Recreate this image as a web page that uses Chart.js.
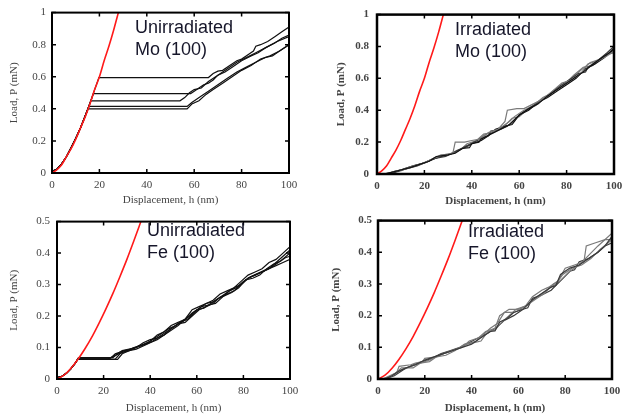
<!DOCTYPE html>
<html>
<head>
<meta charset="utf-8">
<script src="https://cdn.jsdelivr.net/npm/chart.js@4.4.1/dist/chart.umd.min.js"></script>
<style>
  body { margin: 0; background: #fff; }
  #wrap { position: relative; width: 630px; height: 416px; }
  canvas { position: absolute; }
</style>
</head>
<body>
<div id="wrap">
  <canvas id="moUnirr" width="315" height="208" style="left:0;top:0"></canvas>
  <canvas id="moIrr" width="315" height="208" style="left:315px;top:0"></canvas>
  <canvas id="feUnirr" width="315" height="208" style="left:0;top:208px"></canvas>
  <canvas id="feIrr" width="315" height="208" style="left:315px;top:208px"></canvas>
</div>
<script>
// tick values
const hTicks = [0, 20, 40, 60, 80, 100];
const moTicks = [0, 0.2, 0.4, 0.6, 0.8, 1];
const feTicks = [0, 0.05, 0.1, 0.15, 0.2, 0.25, 0.3, 0.35, 0.4, 0.45, 0.5];

// red elastic (Hertz) curves
const moHertzH = [0, 2, 4, 6, 8, 10, 12, 14, 16, 18, 20, 22, 24, 26, 28];
const moHertzP = [0, 0.02, 0.05, 0.10, 0.15, 0.21, 0.28, 0.35, 0.43, 0.52, 0.60, 0.70, 0.79, 0.89, 1.0];
const feHertzH = [0, 3, 6, 9, 12, 15, 18, 21, 24, 27, 30, 33, 36];
const feHertzP = [0, 0.012, 0.034, 0.0625, 0.096, 0.134, 0.177, 0.223, 0.272, 0.325, 0.38, 0.439, 0.5];

// Unirradiated Mo (100): load-displacement curves [h, P]
const moStart = [[0, 0.012], [2, 0.022], [4, 0.055], [6, 0.10], [8, 0.155], [10, 0.215], [12, 0.28], [14, 0.355]];
const moUnA = moStart.concat([[16, 0.435], [18, 0.52], [19.8, 0.595], [66, 0.595], [68, 0.62], [70, 0.635], [72, 0.64], [75, 0.67], [78, 0.70], [80, 0.71], [83, 0.74], [85, 0.76], [86, 0.79], [88, 0.80], [91, 0.82], [94, 0.85], [97, 0.88], [100, 0.91]]);
const moUnB = moStart.concat([[16, 0.435], [17.5, 0.495], [58.5, 0.495], [60, 0.51], [62, 0.53], [64, 0.55], [66, 0.56], [68, 0.58], [70, 0.61], [73, 0.63], [76, 0.66], [80, 0.70], [84, 0.73], [87, 0.75], [90, 0.78], [94, 0.81], [97, 0.84], [100, 0.86]]);
const moUnC = moStart.concat([[16.4, 0.45], [54, 0.45], [56, 0.47], [58, 0.50], [60, 0.52], [63, 0.53], [66, 0.57], [70, 0.61], [74, 0.65], [78, 0.69], [82, 0.72], [86, 0.75], [90, 0.78], [95, 0.82], [100, 0.85]]);
const moUnD = moStart.concat([[15.6, 0.415], [57, 0.415], [59, 0.44], [61, 0.46], [63, 0.48], [66, 0.51], [70, 0.55], [74, 0.59], [78, 0.63], [82, 0.66], [86, 0.69], [90, 0.72], [93, 0.73], [96, 0.76], [100, 0.80]]);
const moUnE = moStart.concat([[15.2, 0.40], [57, 0.40], [59, 0.43], [62, 0.45], [65, 0.49], [68, 0.52], [72, 0.56], [76, 0.60], [80, 0.64], [84, 0.67], [88, 0.71], [92, 0.73], [96, 0.76], [100, 0.80]]);

// Irradiated Mo (100)
const moIrA = [[3, 0], [6, 0.01], [10, 0.025], [14, 0.04], [18, 0.06], [22, 0.08], [25, 0.11], [30, 0.12], [33, 0.13], [36, 0.16], [39, 0.165], [40, 0.19], [43, 0.20], [44, 0.22], [48, 0.25], [52, 0.28], [56, 0.31], [60, 0.37], [64, 0.41], [68, 0.44], [72, 0.49], [76, 0.53], [80, 0.57], [84, 0.61], [88, 0.65], [92, 0.70], [96, 0.74], [100, 0.78]];
const moIrB = [[4, 0], [8, 0.02], [12, 0.03], [16, 0.05], [20, 0.07], [24, 0.10], [28, 0.12], [32, 0.13], [33, 0.20], [37, 0.20], [40, 0.21], [44, 0.22], [47, 0.26], [51, 0.28], [54, 0.33], [55, 0.40], [59, 0.41], [62, 0.41], [66, 0.44], [70, 0.47], [74, 0.52], [78, 0.57], [82, 0.59], [86, 0.63], [89, 0.69], [93, 0.71], [97, 0.74], [100, 0.77]];
const moIrC = [[5, 0], [9, 0.02], [13, 0.035], [17, 0.05], [21, 0.075], [25, 0.10], [29, 0.11], [33, 0.14], [37, 0.17], [41, 0.20], [45, 0.23], [47, 0.24], [48, 0.27], [52, 0.28], [55, 0.30], [58, 0.34], [61, 0.38], [65, 0.42], [69, 0.46], [73, 0.50], [77, 0.55], [81, 0.59], [85, 0.63], [88, 0.64], [89, 0.67], [93, 0.71], [97, 0.76], [100, 0.80]];
const moIrD = [[3, 0], [7, 0.015], [11, 0.03], [15, 0.05], [19, 0.065], [23, 0.09], [27, 0.12], [31, 0.125], [35, 0.15], [38, 0.19], [42, 0.21], [46, 0.25], [50, 0.27], [53, 0.30], [56, 0.33], [58, 0.36], [62, 0.40], [66, 0.43], [70, 0.48], [74, 0.51], [78, 0.55], [82, 0.60], [86, 0.65], [90, 0.70], [94, 0.72], [97, 0.75], [100, 0.76]];
const moIrE = [[4, 0], [8, 0.015], [12, 0.035], [16, 0.055], [20, 0.07], [24, 0.095], [28, 0.115], [32, 0.13], [36, 0.16], [40, 0.19], [44, 0.21], [47, 0.24], [50, 0.28], [54, 0.30], [57, 0.31], [60, 0.37], [64, 0.40], [68, 0.45], [72, 0.48], [76, 0.52], [80, 0.56], [84, 0.60], [88, 0.66], [92, 0.69], [96, 0.73], [100, 0.79]];
const moIrF = [[5, 0], [10, 0.02], [14, 0.045], [18, 0.06], [22, 0.085], [26, 0.11], [30, 0.12], [34, 0.15], [38, 0.17], [42, 0.21], [45, 0.25], [49, 0.26], [53, 0.29], [57, 0.35], [60, 0.36], [63, 0.40], [67, 0.43], [71, 0.48], [75, 0.53], [79, 0.56], [83, 0.62], [87, 0.67], [91, 0.68], [95, 0.73], [100, 0.80]];

// Unirradiated Fe (100)
const feStart = [[0, 0.004], [2, 0.008], [4, 0.018], [6, 0.033], [8, 0.052]];
const feUnA = feStart.concat([[9.3, 0.068], [24, 0.068], [26, 0.08], [28, 0.09], [31, 0.095], [34, 0.10], [37, 0.11], [40, 0.12], [43, 0.14], [46, 0.15], [49, 0.17], [52, 0.18], [55, 0.19], [58, 0.22], [61, 0.23], [64, 0.24], [67, 0.25], [70, 0.27], [73, 0.28], [76, 0.29], [79, 0.31], [82, 0.33], [85, 0.34], [88, 0.35], [91, 0.37], [94, 0.38], [97, 0.40], [100, 0.42]]);
const feUnB = feStart.concat([[9, 0.064], [22, 0.064], [25, 0.075], [28, 0.085], [31, 0.09], [34, 0.10], [37, 0.115], [40, 0.125], [43, 0.13], [46, 0.14], [49, 0.16], [52, 0.175], [55, 0.18], [58, 0.20], [61, 0.22], [64, 0.23], [67, 0.24], [70, 0.26], [73, 0.27], [76, 0.28], [79, 0.30], [82, 0.32], [85, 0.33], [88, 0.34], [91, 0.35], [94, 0.37], [97, 0.39], [100, 0.41]]);
const feUnC = feStart.concat([[8.8, 0.062], [26, 0.062], [28, 0.08], [31, 0.09], [34, 0.095], [37, 0.105], [40, 0.115], [43, 0.125], [46, 0.14], [49, 0.155], [52, 0.17], [55, 0.19], [58, 0.21], [61, 0.225], [64, 0.24], [67, 0.245], [70, 0.26], [73, 0.275], [76, 0.29], [79, 0.30], [82, 0.32], [85, 0.33], [88, 0.34], [91, 0.35], [94, 0.36], [97, 0.37], [100, 0.38]]);
const feUnD = feStart.concat([[9.1, 0.066], [23, 0.066], [25, 0.08], [29, 0.09], [32, 0.095], [35, 0.105], [38, 0.11], [41, 0.12], [44, 0.135], [47, 0.15], [50, 0.165], [53, 0.18], [56, 0.19], [59, 0.21], [62, 0.23], [65, 0.235], [68, 0.24], [71, 0.26], [74, 0.28], [77, 0.29], [80, 0.31], [83, 0.325], [86, 0.335], [89, 0.345], [92, 0.355], [95, 0.37], [98, 0.385], [100, 0.39]]);
const feUnE = feStart.concat([[8.9, 0.063], [25, 0.063], [27, 0.08], [30, 0.09], [33, 0.10], [36, 0.105], [39, 0.115], [42, 0.13], [45, 0.145], [48, 0.16], [51, 0.17], [54, 0.185], [57, 0.20], [60, 0.22], [63, 0.225], [66, 0.24], [69, 0.255], [72, 0.265], [75, 0.275], [78, 0.29], [81, 0.315], [84, 0.32], [87, 0.33], [90, 0.35], [93, 0.365], [96, 0.375], [100, 0.40]]);

// Irradiated Fe (100)
const feIrA = [[3, 0], [6, 0.01], [9, 0.025], [12, 0.035], [16, 0.045], [20, 0.06], [24, 0.07], [28, 0.08], [32, 0.09], [36, 0.10], [40, 0.11], [44, 0.13], [48, 0.15], [50, 0.152], [52, 0.18], [55, 0.19], [58, 0.21], [62, 0.22], [66, 0.25], [70, 0.27], [74, 0.29], [76, 0.295], [78, 0.33], [82, 0.35], [86, 0.36], [90, 0.38], [94, 0.40], [97, 0.42], [100, 0.45]];
const feIrB = [[2, 0], [5, 0.01], [8, 0.02], [9, 0.04], [14, 0.045], [16, 0.05], [19, 0.055], [20, 0.065], [25, 0.07], [28, 0.08], [32, 0.09], [36, 0.10], [39, 0.12], [43, 0.13], [46, 0.15], [50, 0.16], [52, 0.20], [56, 0.22], [60, 0.22], [63, 0.23], [66, 0.26], [70, 0.28], [73, 0.29], [77, 0.31], [80, 0.35], [84, 0.36], [88, 0.37], [89, 0.42], [93, 0.43], [97, 0.44], [100, 0.44]];
const feIrC = [[3, 0], [6, 0.012], [10, 0.03], [14, 0.04], [18, 0.05], [22, 0.06], [26, 0.075], [30, 0.085], [34, 0.095], [38, 0.11], [42, 0.12], [45, 0.14], [48, 0.16], [51, 0.175], [54, 0.21], [58, 0.21], [61, 0.22], [64, 0.235], [68, 0.26], [72, 0.28], [76, 0.30], [79, 0.33], [83, 0.35], [87, 0.36], [91, 0.38], [95, 0.41], [100, 0.44]];
const feIrD = [[4, 0], [7, 0.015], [10, 0.035], [15, 0.035], [18, 0.05], [22, 0.055], [25, 0.07], [29, 0.075], [33, 0.09], [37, 0.11], [41, 0.115], [44, 0.12], [47, 0.15], [50, 0.155], [53, 0.18], [56, 0.20], [59, 0.22], [63, 0.23], [67, 0.25], [71, 0.27], [75, 0.30], [78, 0.31], [82, 0.34], [86, 0.36], [90, 0.39], [94, 0.42], [100, 0.46]];
const feIrE = [[3, 0], [7, 0.01], [11, 0.03], [15, 0.045], [19, 0.055], [23, 0.065], [27, 0.08], [31, 0.09], [35, 0.10], [39, 0.115], [43, 0.13], [47, 0.145], [51, 0.165], [54, 0.185], [58, 0.20], [62, 0.22], [64, 0.225], [66, 0.255], [70, 0.265], [74, 0.28], [78, 0.31], [82, 0.34], [84, 0.345], [86, 0.37], [90, 0.38], [94, 0.40], [97, 0.42], [100, 0.43]];

// panel captions
const moUnLabel = ['Unirradiated', 'Mo (100)'];
const moIrLabel = ['Irradiated', 'Mo (100)'];
const feUnLabel = ['Unirradiated', 'Fe (100)'];
const feIrLabel = ['Irradiated', 'Fe (100)'];

const BLACK = '#111';
const DARK = '#3a3a3a';
const GREY = '#7a7a7a';

function curve(points, color) {
    return {
        data: points.map(p => ({ x: p[0], y: p[1] })),
        borderColor: color,
        borderWidth: 1.2,
        pointRadius: 0,
        tension: 0
    };
}

function hertz(hs, ps) {
    return {
        data: hs.map((h, i) => ({ x: h, y: ps[i] })),
        borderColor: '#ff1a1a',
        borderWidth: 1.6,
        pointRadius: 0,
        cubicInterpolationMode: 'monotone'
    };
}

// frame with inward ticks on all sides, plus the caption
const framePlugin = {
    id: 'frame',
    afterDatasetsDraw(chart, args, opts) {
        const { ctx, chartArea: a, scales } = chart;
        ctx.save();
        ctx.strokeStyle = '#000';
        ctx.lineWidth = 1.5;
        ctx.beginPath();
        scales.x.ticks.forEach(t => {
            const px = scales.x.getPixelForValue(t.value);
            ctx.moveTo(px, a.bottom); ctx.lineTo(px, a.bottom - 4);
            ctx.moveTo(px, a.top); ctx.lineTo(px, a.top + 4);
        });
        scales.y.ticks.forEach(t => {
            const py = scales.y.getPixelForValue(t.value);
            ctx.moveTo(a.left, py); ctx.lineTo(a.left + 4, py);
            ctx.moveTo(a.right, py); ctx.lineTo(a.right - 4, py);
        });
        ctx.stroke();
        ctx.lineWidth = opts.frameWidth;
        ctx.strokeRect(a.left, a.top, a.width, a.height);

        ctx.font = '18px "Liberation Sans", Arial, sans-serif';
        ctx.fillStyle = '#16162a';
        ctx.textBaseline = 'middle';
        opts.text.forEach((line, i) => ctx.fillText(line, opts.textX, opts.textY[i]));
        ctx.restore();
    }
};

function makePanel(id, datasets, yTicks, yMax, lay) {
    const tickFont = { family: '"Liberation Serif", "Times New Roman", serif', size: 11, weight: lay.bold ? 'bold' : 'normal' };
    const titleFont = { family: '"Liberation Serif", "Times New Roman", serif', size: 11, weight: lay.bold ? 'bold' : 'normal' };
    const canvas = document.getElementById(id);
    return new Chart(canvas.getContext('2d'), {
        type: 'line',
        data: { datasets: datasets },
        options: {
            responsive: false,
            animation: false,
            devicePixelRatio: 1,
            layout: { padding: { top: lay.top, right: canvas.width - lay.right, left: 0, bottom: 0 } },
            plugins: {
                legend: { display: false },
                tooltip: { enabled: false },
                frame: { frameWidth: lay.frameWidth, text: lay.text, textX: lay.textX, textY: lay.textY }
            },
            scales: {
                x: {
                    type: 'linear',
                    min: 0, max: 100,
                    afterBuildTicks: s => { s.ticks = hTicks.map(v => ({ value: v })); },
                    afterFit: s => { s.height = canvas.height - lay.bottom; },
                    grid: { display: false, drawTicks: false },
                    border: { display: false },
                    ticks: { color: '#444', font: tickFont, padding: 6, maxRotation: 0, callback: v => String(v) },
                    title: { display: true, text: 'Displacement, h (nm)', color: '#444', font: titleFont, padding: { top: 0, bottom: lay.xTitlePad } }
                },
                y: {
                    type: 'linear',
                    min: 0, max: yMax,
                    afterBuildTicks: s => { s.ticks = yTicks.map(v => ({ value: v })); },
                    afterFit: s => { s.width = lay.left; },
                    grid: { display: false, drawTicks: false },
                    border: { display: false },
                    ticks: { color: '#444', font: tickFont, padding: lay.yTickPad, callback: v => String(v) },
                    title: { display: true, text: 'Load, P (mN)', color: '#444', font: titleFont, padding: { top: lay.yTitlePad, bottom: 0 } }
                }
            }
        },
        plugins: [framePlugin]
    });
}

makePanel('moUnirr', [
    hertz(moHertzH, moHertzP),
    curve(moUnA, BLACK), curve(moUnB, BLACK), curve(moUnC, BLACK), curve(moUnD, BLACK), curve(moUnE, BLACK)
], moTicks, 1, {
    left: 52, right: 289, top: 10, bottom: 173, frameWidth: 2, yTickPad: 6, yTitlePad: 8, xTitlePad: 1,
    text: moUnLabel, textX: 135, textY: [28, 50]
});

makePanel('moIrr', [
    hertz(moHertzH, moHertzP),
    curve(moIrA, BLACK), curve(moIrB, GREY), curve(moIrC, DARK), curve(moIrD, GREY), curve(moIrE, BLACK), curve(moIrF, GREY)
], moTicks, 1, {
    left: 62, right: 299, top: 10, bottom: 174, frameWidth: 2.5, yTickPad: 8, yTitlePad: 20, xTitlePad: 0, bold: true,
    text: moIrLabel, textX: 140, textY: [30, 52]
});

makePanel('feUnirr', [
    hertz(feHertzH, feHertzP),
    curve(feUnA, BLACK), curve(feUnB, BLACK), curve(feUnC, BLACK), curve(feUnD, BLACK), curve(feUnE, BLACK)
], feTicks, 0.5, {
    left: 57, right: 290, top: 5, bottom: 171, frameWidth: 2, yTickPad: 7, yTitlePad: 8, xTitlePad: 1,
    text: feUnLabel, textX: 147, textY: [23, 45]
});

makePanel('feIrr', [
    hertz(feHertzH, feHertzP),
    curve(feIrA, DARK), curve(feIrB, GREY), curve(feIrC, GREY), curve(feIrD, GREY), curve(feIrE, DARK)
], feTicks, 0.5, {
    left: 63, right: 297, top: 5, bottom: 171, frameWidth: 2.5, yTickPad: 6, yTitlePad: 15, xTitlePad: 1, bold: true,
    text: feIrLabel, textX: 153, textY: [24, 46]
});
</script>
</body>
</html>
